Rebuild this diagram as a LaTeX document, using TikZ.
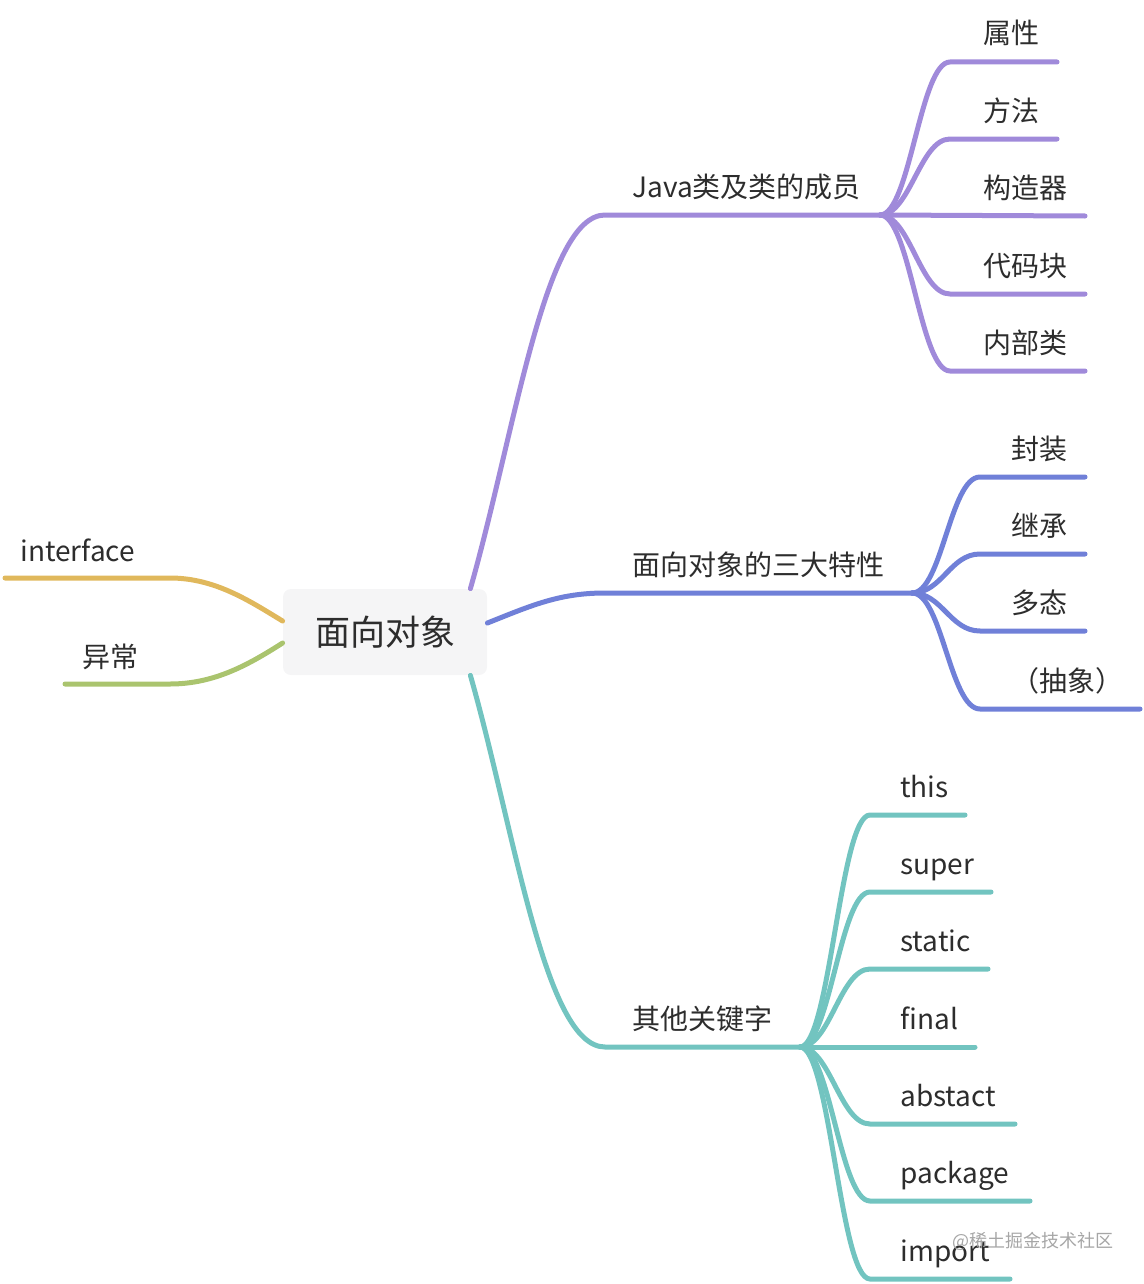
\documentclass[tikz,border=0pt]{standalone}
\usepackage{fontspec}
\setmainfont{Noto Sans CJK SC}

\definecolor{purp}{RGB}{160,138,218}
\definecolor{blu}{RGB}{112,128,216}
\definecolor{teal2}{RGB}{114,196,192}
\definecolor{orng}{RGB}{224,184,92}
\definecolor{grn}{RGB}{170,196,110}
\definecolor{rootbg}{RGB}{245,245,246}
\definecolor{txt}{RGB}{45,45,45}

\tikzset{
  br/.style={line width=2.5pt, line cap=round},
  lbl/.style={anchor=base west, inner sep=0pt, text=txt, font=\fontsize{14}{16}\selectfont},
}

\begin{document}
\begin{tikzpicture}[x=0.5pt, y=-0.5pt]
	\useasboundingbox (0,0) rectangle (1144,1284);

	% root
	\node[fill=rootbg, rounded corners=4pt, minimum width=102pt, minimum height=43pt,
	      inner sep=0pt, text=txt, font=\fontsize{17.5}{20}\selectfont] (root) at (385,632) {面向对象};

	% left side
	\coordinate (ifc) at (170,578); \coordinate (ifce) at (5,578);
	\coordinate (exc) at (170,684); \coordinate (exce) at (65,684);
	\node[lbl] (ifct) at (20,561) {interface};
	\node[lbl] (exct) at (82,667) {异常};
	\draw[br, orng] ([yshift=5.5pt]root.west) .. controls +(-33,-20) and +(45,0) .. (ifc) -- (ifce);
	\draw[br, grn] ([yshift=-5.5pt]root.west) .. controls +(-33,21) and +(45,0) .. (exc) -- (exce);

	% Java members
	\coordinate (jv) at (605,215); \coordinate (jvf) at (880,215);
	\node[lbl] (jvt) at (632,197) {Java类及类的成员};
	\draw[br, purp] ([xshift=-8.5pt]root.north east) .. controls +(45,-158) and +(-60,0) .. (jv) -- (jvf);
	\coordinate (a1) at (950,62);  \coordinate (a1e) at (1057,62);
	\coordinate (a2) at (950,139); \coordinate (a2e) at (1057,139);
	\coordinate (a3e) at (1085,216);
	\coordinate (a4) at (950,294); \coordinate (a4e) at (1085,294);
	\coordinate (a5) at (950,371); \coordinate (a5e) at (1085,371);
	\node[lbl] (a1t) at (983,44) {属性};
	\node[lbl] (a2t) at (983,121) {方法};
	\node[lbl] (a3t) at (983,198) {构造器};
	\node[lbl] (a4t) at (983,276) {代码块};
	\node[lbl] (a5t) at (983,353) {内部类};
	\draw[br, purp] (jvf) .. controls +(30,0) and +(-30,0) .. (a1) -- (a1e);
	\draw[br, purp] (jvf) .. controls +(30,0) and +(-30,0) .. (a2) -- (a2e);
	\draw[br, purp] (jvf) -- (a3e);
	\draw[br, purp] (jvf) .. controls +(30,0) and +(-30,0) .. (a4) -- (a4e);
	\draw[br, purp] (jvf) .. controls +(30,0) and +(-30,0) .. (a5) -- (a5e);

	% three features
	\coordinate (ft) at (605,593); \coordinate (ftf) at (912,593);
	\node[lbl] (ftt) at (632,575) {面向对象的三大特性};
	\draw[br, blu] ([yshift=4.5pt]root.east) .. controls +(45,-18) and +(-45,0) .. (ft) -- (ftf);
	\coordinate (b1) at (980,477); \coordinate (b1e) at (1085,477);
	\coordinate (b2) at (980,554); \coordinate (b2e) at (1085,554);
	\coordinate (b3) at (980,631); \coordinate (b3e) at (1085,631);
	\coordinate (b4) at (980,709); \coordinate (b4e) at (1140,709);
	\node[lbl] (b1t) at (1011,459) {封装};
	\node[lbl] (b2t) at (1011,536) {继承};
	\node[lbl] (b3t) at (1011,613) {多态};
	\node[lbl] (b4t) at (1011,691) {（抽象）};
	\draw[br, blu] (ftf) .. controls +(30,0) and +(-30,0) .. (b1) -- (b1e);
	\draw[br, blu] (ftf) .. controls +(30,0) and +(-30,0) .. (b2) -- (b2e);
	\draw[br, blu] (ftf) .. controls +(30,0) and +(-30,0) .. (b3) -- (b3e);
	\draw[br, blu] (ftf) .. controls +(30,0) and +(-30,0) .. (b4) -- (b4e);

	% keywords
	\coordinate (kw) at (605,1047); \coordinate (kwf) at (800,1047);
	\node[lbl] (kwt) at (632,1029) {其他关键字};
	\draw[br, teal2] ([xshift=-8.5pt]root.south east) .. controls +(45,158) and +(-60,0) .. (kw) -- (kwf);
	\coordinate (c1) at (870,815);  \coordinate (c1e) at (965,815);
	\coordinate (c2) at (870,892);  \coordinate (c2e) at (991,892);
	\coordinate (c3) at (870,969);  \coordinate (c3e) at (988,969);
	\coordinate (c4e) at (975,1047);
	\coordinate (c5) at (870,1124); \coordinate (c5e) at (1015,1124);
	\coordinate (c6) at (870,1201); \coordinate (c6e) at (1030,1201);
	\coordinate (c7) at (870,1279); \coordinate (c7e) at (1010,1279);
	\node[lbl] (c1t) at (900,797) {this};
	\node[lbl] (c2t) at (900,874) {super};
	\node[lbl] (c3t) at (900,951) {static};
	\node[lbl] (c4t) at (900,1029) {final};
	\node[lbl] (c5t) at (900,1106) {abstact};
	\node[lbl] (c6t) at (900,1183) {package};
	\node[lbl] (c7t) at (900,1261) {import};
	\draw[br, teal2] (kwf) .. controls +(30,0) and +(-30,0) .. (c1) -- (c1e);
	\draw[br, teal2] (kwf) .. controls +(30,0) and +(-30,0) .. (c2) -- (c2e);
	\draw[br, teal2] (kwf) .. controls +(30,0) and +(-30,0) .. (c3) -- (c3e);
	\draw[br, teal2] (kwf) -- (c4e);
	\draw[br, teal2] (kwf) .. controls +(30,0) and +(-30,0) .. (c5) -- (c5e);
	\draw[br, teal2] (kwf) .. controls +(30,0) and +(-30,0) .. (c6) -- (c6e);
	\draw[br, teal2] (kwf) .. controls +(30,0) and +(-30,0) .. (c7) -- (c7e);

	% watermark
	\node[anchor=west, inner sep=0pt, text=black!35, font=\fontsize{9}{10}\selectfont] (wm) at (952,1241) {@稀土掘金技术社区};
\end{tikzpicture}
\end{document}
